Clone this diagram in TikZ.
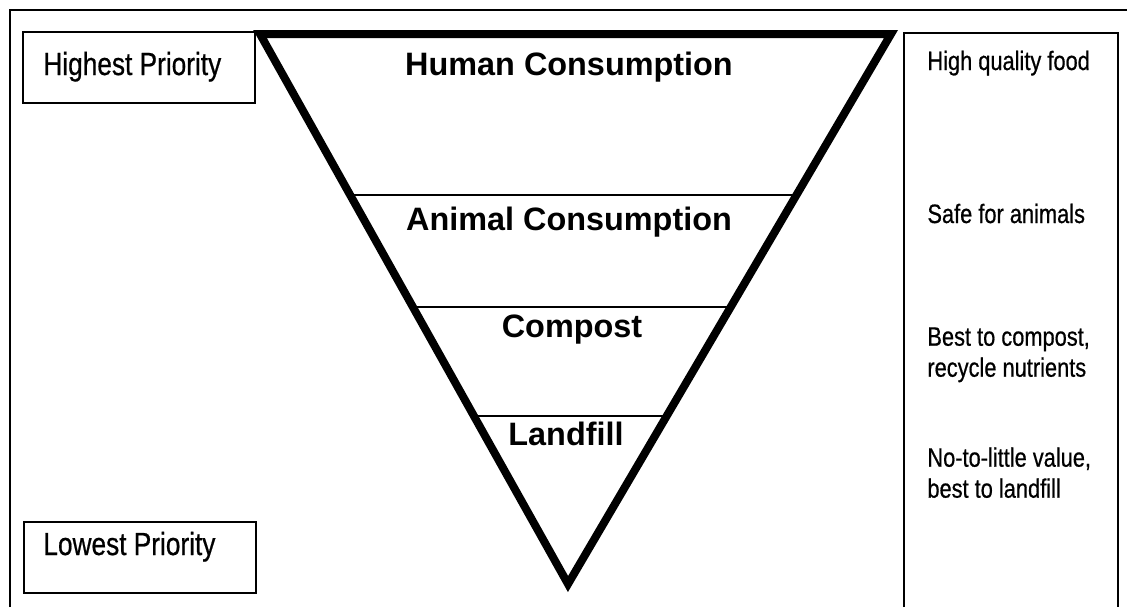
\documentclass[tikz,border=0pt]{standalone}
\usepackage{fontspec}
\setmainfont{Liberation Sans}
\newfontfamily\narrowsans[FakeStretch=0.82,FakeBold=0.6]{Liberation Sans}
\usetikzlibrary{calc}
\tikzset{
  level label/.style={font=\bfseries\fontsize{16.2}{19}\selectfont, anchor=base, inner sep=0pt},
  priority box/.style={draw, line width=1pt, minimum width=116pt, minimum height=35.5pt, inner sep=0pt},
  priority label/.style={font=\narrowsans\fontsize{16}{19}\selectfont, anchor=base west, inner sep=0pt},
  note label/.style={font=\narrowsans\fontsize{13.3}{15.5}\selectfont, align=left, inner sep=0pt},
}

\begin{document}
\begin{tikzpicture}[x=0.5pt, y=-0.5pt]
  \useasboundingbox (0,0) rectangle (1127,607);

  % outer frame (cut off at right and bottom)
  \draw[line width=1pt] (10,607) -- (10,10) -- (1127,10);

  % priority boxes on the left
  \node[priority box] (highbox) at (139,67.5) {};
  \node[priority label] (high) at (43,75) {Highest Priority};
  \node[priority box] (lowbox) at (139.5,557) {};
  \node[priority label] (low) at (43,555) {Lowest Priority};

  % inverted triangle with its levels
  \coordinate (tl) at (260,34);
  \coordinate (tr) at (891,34);
  \coordinate (apex) at (568,584);
  \foreach \f in {0.293,0.496,0.694}
    \draw[line width=0.8pt] ($(tl)!\f!(apex)$) -- ($(tr)!\f!(apex)$);
  \draw[line width=4pt, line join=miter] (tl) -- (tr) -- (apex) -- cycle;

  \node[level label] (human) at (569,75) {Human Consumption};
  \node[level label] (animal) at (569,230) {Animal Consumption};
  \node[level label] (compost) at (572,337) {Compost};
  \node[level label] (landfill) at (566,445) {Landfill};

  % notes column on the right
  \draw[line width=1pt] (904,607) -- (904,33) -- (1118,33) -- (1118,607);
  \node[note label, anchor=base west] (food) at (927,70) {High quality food};
  \node[note label, anchor=base west] (safe) at (927,223) {Safe for animals};
  \node[note label, anchor=north west] (nutrients) at (927,327) {Best to compost,\\recycle nutrients};
  \node[note label, anchor=north west] (value) at (927,447) {No-to-little value,\\best to landfill};
\end{tikzpicture}
\end{document}
